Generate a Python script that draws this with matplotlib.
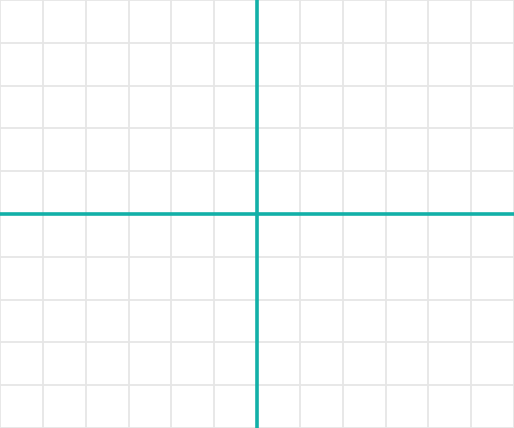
import numpy as np
import matplotlib.pyplot as plt

x_ticks = list(range(-6, 7))
y_ticks = list(range(-5, 6))
grid_color = "#e6e6e6"
axis_color = "#12b0a8"

fig = plt.figure(figsize=(5.14, 4.28), dpi=100)
ax = fig.add_axes([0, 0, 1, 1])
ax.set_xlim(-6, 6)
ax.set_ylim(-5, 5)
ax.set_xticks(x_ticks)
ax.set_yticks(y_ticks)
ax.grid(True, color=grid_color, linewidth=1.3)
ax.tick_params(length=0, labelbottom=False, labelleft=False)
for s in ax.spines.values():
    s.set_visible(False)

ax.axhline(0, color=axis_color, linewidth=2.6)
ax.axvline(0, color=axis_color, linewidth=2.6)

fig.savefig("out.png", dpi=100)
